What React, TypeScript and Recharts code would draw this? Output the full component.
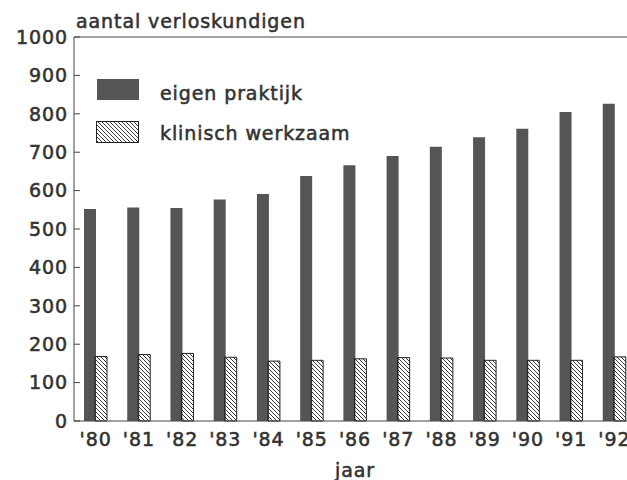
import React from 'react';
import { BarChart, Bar, XAxis, YAxis, ReferenceLine } from 'recharts';

const years = ["'80", "'81", "'82", "'83", "'84", "'85", "'86", "'87", "'88", "'89", "'90", "'91", "'92"];
const eigenPraktijk = [552, 556, 555, 577, 591, 638, 666, 690, 714, 739, 761, 805, 826];
const klinischWerkzaam = [168, 173, 176, 166, 156, 158, 162, 165, 164, 158, 158, 158, 167];
const yTicks = [0, 100, 200, 300, 400, 500, 600, 700, 800, 900, 1000];
const seriesNames = ['eigen praktijk', 'klinisch werkzaam'];

const data = years.map((y, i) => ({ year: y, eigen: eigenPraktijk[i], klinisch: klinischWerkzaam[i] }));

const FONT = '"DejaVu Sans", sans-serif';
const TEXT = '#333';
const DARK = '#545654';

const textStyle = {
  fontFamily: FONT,
  fontSize: 19,
  letterSpacing: 0.9,
  fill: TEXT,
  stroke: TEXT,
  strokeWidth: 0.55,
};

export default function App() {
  return (
    <div style={{ position: 'absolute', left: 0, top: 0, width: 627, height: 480, overflow: 'hidden', background: '#fff' }}>
      <BarChart
        width={650}
        height={480}
        data={data}
        margin={{ top: 37, right: 14, bottom: 0, left: 0 }}
        barGap={-1}
      >
        <defs>
          <pattern id="hatch" patternUnits="userSpaceOnUse" width="4" height="4">
            <path d="M-1,-1 L5,5 M3,-1 L5,1 M-1,3 L1,5" stroke="#222" strokeWidth="0.9" />
          </pattern>
        </defs>
        <XAxis
          dataKey="year"
          height={59}
          tickLine={false}
          tickSize={6}
          tickMargin={6}
          axisLine={{ stroke: '#444', strokeWidth: 1 }}
          tick={{ ...textStyle }}
          interval={0}
          label={{ value: 'jaar', position: 'insideBottom', offset: 3, style: { ...textStyle, textAnchor: 'middle' } }}
        />
        <YAxis
          width={74}
          domain={[0, 1000]}
          ticks={yTicks}
          interval={0}
          tickSize={-6}
          tickMargin={12}
          tickLine={{ stroke: '#444', strokeWidth: 1 }}
          axisLine={{ stroke: '#444', strokeWidth: 1 }}
          tick={{ ...textStyle }}
        />
        <ReferenceLine y={1000} stroke="#444" strokeWidth={1} />
        <Bar dataKey="eigen" name={seriesNames[0]} fill={DARK} barSize={12} isAnimationActive={false} />
        <Bar dataKey="klinisch" name={seriesNames[1]} fill="url(#hatch)" stroke="#222" strokeWidth={1} barSize={12} isAnimationActive={false} />
        <text x={76} y={28} style={textStyle as any}>aantal verloskundigen</text>
        <g>
          <rect x={97} y={79} width={42} height={21} fill={DARK} />
          <text x={160} y={100} style={textStyle as any}>{seriesNames[0]}</text>
          <rect x={96.5} y={121.5} width={42} height={21} fill="url(#hatch)" stroke="#222" strokeWidth={1} />
          <text x={160} y={140} style={textStyle as any}>{seriesNames[1]}</text>
        </g>
      </BarChart>
    </div>
  );
}
